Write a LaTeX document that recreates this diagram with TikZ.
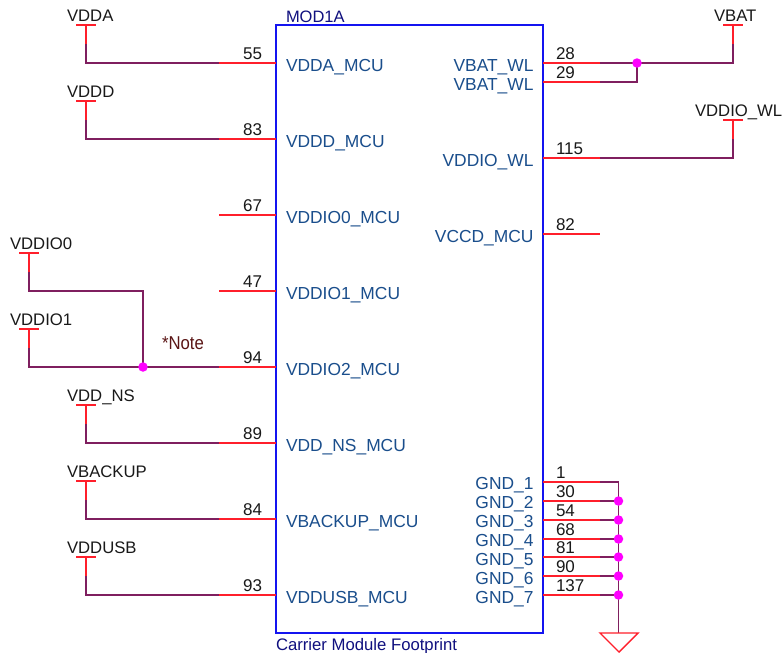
\documentclass[tikz,border=0pt]{standalone}
\usepackage{graphicx}
\usepackage{fontspec}
\setmainfont{Liberation Sans}
\definecolor{pinred}{HTML}{FF1F2B}
\definecolor{wirep}{HTML}{7F1F5F}
\definecolor{boxblue}{HTML}{1414F0}
\definecolor{pintxt}{HTML}{1A4E8C}
\definecolor{reftxt}{HTML}{10107F}
\definecolor{notetxt}{HTML}{5A1414}
\definecolor{dotc}{HTML}{FF00FF}
\tikzset{
  pinline/.style={draw=pinred,line width=1.4pt},
  wireline/.style={draw=wirep,line width=1.5pt,line join=miter},
  partbox/.style={draw=boxblue,line width=1.5pt},
  txtbase/.style={inner sep=0pt,outer sep=0pt,anchor=base},
  pinname/.style={txtbase,text=pintxt,font=\fontsize{17.4}{20}\selectfont},
  pinnum/.style={txtbase,text=black!90,font=\fontsize{17}{20}\selectfont},
  netname/.style={txtbase,anchor=base west,text=black!90,font=\fontsize{16.7}{20}\selectfont},
  partlabel/.style={txtbase,anchor=base west,text=reftxt,font=\fontsize{16.5}{20}\selectfont},
  notelabel/.style={txtbase,anchor=base west,text=notetxt,font=\fontsize{18.6}{20}\selectfont},
  junction/.style={circle,fill=dotc,inner sep=0pt,minimum size=9.5pt},
  gndsym/.style={draw=pinred,line width=1.4pt,line join=miter},
}
% power symbol: #1 name, #2 x, #3 y top, #4 label, #5 label x
\newcommand{\powsym}[5]{%
  \coordinate (#1top) at (#2,#3);
  \coordinate (#1mid) at (#2,#3+19);
  \draw[pinline] (#2-10,#3) -- (#2+10,#3);
  \draw[pinline] (#1top) -- (#1mid);
  \node[netname] (#1lab) at (#5,#3-3.5) {#4};
}
% left pin: #1 name, #2 y, #3 number, #4 pin text
\newcommand{\lpin}[4]{%
  \coordinate (p#1box) at (276,#2);
  \coordinate (p#1end) at (219,#2);
  \draw[pinline] (p#1end) -- (p#1box);
  \node[pinnum] (n#1) at (252.5,#2-4) {#3};
  \node[pinname,anchor=base west] (t#1) at (286,#2+8) {#4};
}
% right pin: #1 name, #2 y, #3 number, #4 pin text, #5 text baseline y
\newcommand{\rpin}[5]{%
  \coordinate (p#1box) at (543,#2);
  \coordinate (p#1end) at (600,#2);
  \draw[pinline] (p#1box) -- (p#1end);
  \node[pinnum,anchor=base west] (n#1) at (556,#2-4) {#3};
  \node[pinname,anchor=base east] (t#1) at (533.5,#5) {#4};
}
\begin{document}
\begin{tikzpicture}[x=1pt,y=-1pt]
\useasboundingbox[fill=white] (0,0) rectangle (782,653);
\node[partbox,minimum width=267pt,minimum height=608pt,inner sep=0pt,outer sep=0pt,anchor=north west] (part) at (276,25) {};
\node[partlabel] (refdes) at (286,22) {MOD1A};
\node[partlabel,font=\fontsize{16.7}{20}\selectfont] (footprint) at (276,650) {Carrier Module Footprint};
% left pins
\lpin{a}{63}{55}{VDDA\_MCU}
\lpin{b}{139}{83}{VDDD\_MCU}
\lpin{c}{215}{67}{VDDIO0\_MCU}
\lpin{d}{291}{47}{VDDIO1\_MCU}
\lpin{e}{367}{94}{VDDIO2\_MCU}
\lpin{f}{443}{89}{VDD\_NS\_MCU}
\lpin{g}{519}{84}{VBACKUP\_MCU}
\lpin{h}{595}{93}{VDDUSB\_MCU}
% right pins
\rpin{i}{63}{28}{VBAT\_WL}{71}
\rpin{j}{82}{29}{VBAT\_WL}{90}
\rpin{k}{158}{115}{VDDIO\_WL}{166}
\rpin{l}{234}{82}{VCCD\_MCU}{242}
\rpin{m}{482}{1}{GND\_1}{489}
\rpin{n}{501}{30}{GND\_2}{508}
\rpin{o}{520}{54}{GND\_3}{527}
\rpin{q}{539}{68}{GND\_4}{546}
\rpin{r}{557}{81}{GND\_5}{565}
\rpin{s}{576}{90}{GND\_6}{584}
\rpin{u}{595}{137}{GND\_7}{603}
% power symbols
\powsym{VA}{86}{25}{VDDA}{67}
\powsym{VD}{86}{101}{VDDD}{67}
\powsym{VZ}{29}{253}{VDDIO0}{10}
\powsym{VO}{29}{329}{VDDIO1}{10}
\powsym{VN}{86}{405}{VDD\_NS}{67}
\powsym{VB}{86}{481}{VBACKUP}{67}
\powsym{VU}{86}{557}{VDDUSB}{67}
\powsym{VT}{733}{25}{VBAT}{714}
\powsym{VW}{733}{120}{VDDIO\_WL}{695}
% wires
\draw[wireline] (VAmid) |- (paend);
\draw[wireline] (VDmid) |- (pbend);
\draw[wireline] (VNmid) |- (pfend);
\draw[wireline] (VBmid) |- (pgend);
\draw[wireline] (VUmid) |- (phend);
\coordinate (jn) at (143,367);
\draw[wireline] (VOmid) |- (peend);
\draw[wireline] (VZmid) |- (143,291) -- (jn);
\node[junction] (jnd) at (jn) {};
\node[notelabel] (note) at (162,349) {\scalebox{.9}[1]{*Note}};
\coordinate (jb) at (637,63);
\draw[wireline] (piend) -- (733,63) -- (VTmid);
\draw[wireline] (pjend) -| (jb);
\node[junction] (jbd) at (jb) {};
\draw[wireline] (pkend) -| (VWmid);
% ground bus
\coordinate (gt) at (618.5,482);
\coordinate (gb) at (618.5,633);
\draw[wireline] (pmend) -- (gt) -- (gb);
\foreach \p/\y in {n/501,o/520,q/539,r/557,s/576,u/595}{
  \draw[wireline] (p\p end) -- (618.5,\y);
  \node[junction] (g\p) at (618.5,\y) {};
}
\draw[gndsym] (600,633) -- (638,633) -- (619,652) -- cycle;
\end{tikzpicture}
\end{document}
